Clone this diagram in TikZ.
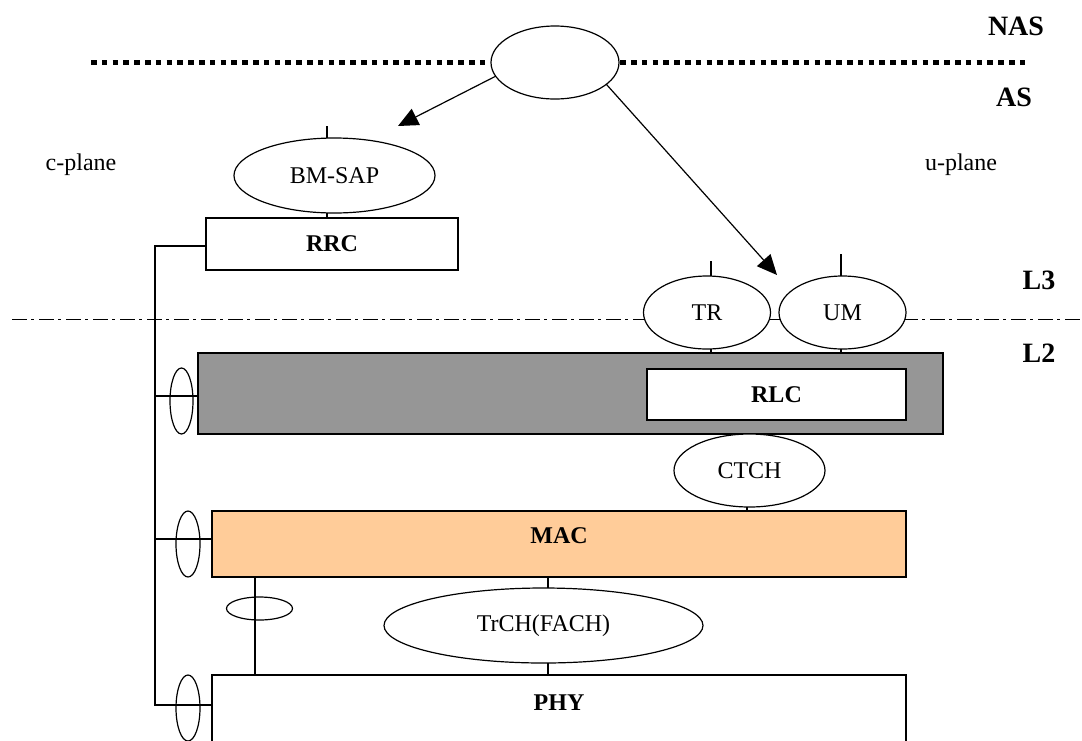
\documentclass[tikz,border=0pt]{standalone}
\usepackage{fontspec}
\setmainfont{Liberation Serif}
\usetikzlibrary{shapes.geometric,arrows.meta}
\definecolor{grayfill}{RGB}{150,150,150}
\definecolor{macfill}{RGB}{255,204,153}
\begin{document}
\begin{tikzpicture}[x=1pt,y=-1pt,
  every node/.style={inner sep=0pt, outer sep=0pt},
  oval/.style={ellipse, draw, line width=1.2pt, fill=white, font=\fontsize{24}{28}\selectfont},
  ring/.style={ellipse, draw, line width=1.2pt},
  layerbox/.style={rectangle, draw, line width=1.2pt},
  boxlabel/.style={font=\fontsize{24}{28}\selectfont\bfseries},
  sidelabel/.style={font=\fontsize{28}{32}\selectfont\bfseries},
  planelabel/.style={font=\fontsize{24}{28}\selectfont},
  conn/.style={line width=1.2pt},
  arr/.style={line width=1.2pt, -{Triangle[length=20pt,width=18pt]}},
  dotline/.style={line width=5pt, dash pattern=on 5.5pt off 5.3pt},
  dashdotline/.style={line width=1pt, dash pattern=on 15pt off 4pt on 2.5pt off 5.5pt}
]
\useasboundingbox (0,0) rectangle (1082,740);
\clip (0,0) rectangle (1082,740);

% separator lines
\coordinate (dotL) at (91,62.5);
\coordinate (dotR) at (1030,62.5);
\draw[dotline] (dotL) -- (dotR);
\coordinate (ddL) at (12,319);
\coordinate (ddR) at (1082,319);
\draw[dashdotline] (ddL) -- (ddR);

% side labels
\node[sidelabel] (nas) at (1016,26) {NAS};
\node[sidelabel] (as) at (1014,97) {AS};
\node[sidelabel] (l3) at (1039,280.5) {L3};
\node[sidelabel] (l2) at (1039,353) {L2};
\node[planelabel] (cplane) at (81,165) {c-plane};
\node[planelabel] (uplane) at (961,165) {u-plane};

% top ellipse
\node[oval, minimum width=128pt, minimum height=73pt] (top) at (555,62.5) {};

% c-plane
\node[oval, minimum width=201pt, minimum height=75pt] (bm) at (334.5,175.5) {BM-SAP};
\node[layerbox, minimum width=252pt, minimum height=52pt] (rrc) at (332,244) {};
\node[boxlabel] (rrcL) at (rrc.center) {RRC};

% u-plane SAPs
\node[oval, minimum width=127pt, minimum height=73pt] (tr) at (707,312.5) {TR};
\node[oval, minimum width=127pt, minimum height=73pt] (um) at (842.5,312.5) {UM};

% layer boxes
\node[layerbox, fill=grayfill, minimum width=745pt, minimum height=81pt] (rlcbg) at (570.5,393.5) {};
\node[layerbox, fill=white, minimum width=259pt, minimum height=51pt] (rlc) at (776.5,394.5) {};
\node[boxlabel] (rlcL) at (rlc.center) {RLC};
\node[oval, minimum width=151pt, minimum height=73pt] (ctch) at (749.5,470.5) {CTCH};
\node[layerbox, fill=macfill, minimum width=694pt, minimum height=66pt] (mac) at (559,544) {};
\node[boxlabel] (macL) at ([yshift=8pt]mac.center) {MAC};
\node[oval, minimum width=319pt, minimum height=75pt] (trch) at (543.5,625.5) {TrCH(FACH)};
\node[layerbox, minimum width=694pt, minimum height=90pt] (phy) at (559,720) {};
\node[boxlabel] (phyL) at (559,702.5) {PHY};

% arrows
\coordinate (tipA) at (398,126);
\coordinate (tipB) at (777,275);
\draw[arr] (top.193) -- (tipA);
\draw[arr] (top.337) -- (tipB);

% ticks
\coordinate (bmT) at (327,126);
\draw[conn] (bmT) -- (bmT |- bm.north);
\draw[conn] (bmT |- bm.south) -- (bmT |- rrc.north);
\coordinate (trT) at (711,261);
\draw[conn] (trT) -- (trT |- tr.north);
\draw[conn] (trT |- tr.south) -- (trT |- rlcbg.north);
\coordinate (umT) at (841,254);
\draw[conn] (umT) -- (umT |- um.north);
\draw[conn] (umT |- um.south) -- (umT |- rlcbg.north);
\coordinate (ctT) at (747,507);
\draw[conn] (ctT |- ctch.south) -- (ctT |- mac.north);
\coordinate (trchT) at (548,625);
\draw[conn] (trchT |- mac.south) -- (trchT |- trch.north);
\draw[conn] (trchT |- trch.south) -- (trchT |- phy.north);

% control bus
\coordinate (b1) at (155,246);
\coordinate (b2) at (155,396);
\coordinate (b3) at (155,539);
\coordinate (b4) at (155,705);
\draw[conn] (rrc.west |- b1) -- (b1) -- (b4) -- (phy.west |- b4);
\draw[conn] (b2) -- (rlcbg.west |- b2);
\draw[conn] (b3) -- (mac.west |- b3);
\node[ring, minimum width=23pt, minimum height=66pt] (s2) at (181.5,401) {};
\node[ring, minimum width=24pt, minimum height=66pt] (s3) at (188,544) {};
\node[ring, minimum width=24pt, minimum height=66pt] (s4) at (188,708) {};

% MAC-PHY link
\coordinate (v1) at (255,600);
\draw[conn] (v1 |- mac.south) -- (v1 |- phy.north);
\node[ring, minimum width=66pt, minimum height=23pt] (s5) at (259.5,608.5) {};
\end{tikzpicture}
\end{document}
